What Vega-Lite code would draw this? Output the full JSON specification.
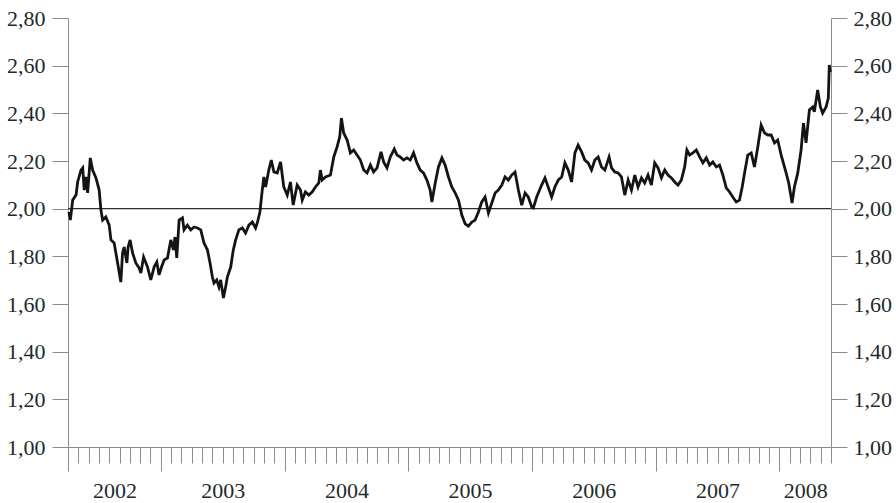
{
  "$schema": "https://vega.github.io/schema/vega-lite/v6.json",
  "width": 763,
  "height": 429,
  "autosize": {"type": "none"},
  "padding": {"left": 68, "top": 18, "right": 65, "bottom": 56},
  "background": "white",
  "config": {
    "view": {"stroke": null},
    "axis": {"grid": false, "domainColor": "#8c8c8c", "tickColor": "#8c8c8c", "domainWidth": 1, "tickWidth": 1, "labelFont": "Liberation Serif", "labelFontSize": 22, "labelColor": "#1d2b2b", "title": null}
  },
  "datasets": {
    "series": [
      {"t":2002.258,"v":1.986},{"t":2002.269,"v":1.952},{"t":2002.288,"v":2.036},{"t":2002.315,"v":2.057},{"t":2002.328,"v":2.112},{"t":2002.355,"v":2.162},{"t":2002.369,"v":2.171},{"t":2002.381,"v":2.078},{"t":2002.395,"v":2.133},{"t":2002.409,"v":2.066},{"t":2002.430,"v":2.213},{"t":2002.449,"v":2.162},{"t":2002.476,"v":2.129},{"t":2002.502,"v":2.078},{"t":2002.516,"v":1.994},{"t":2002.530,"v":1.952},{"t":2002.556,"v":1.965},{"t":2002.583,"v":1.931},{"t":2002.597,"v":1.869},{"t":2002.623,"v":1.856},{"t":2002.651,"v":1.772},{"t":2002.677,"v":1.692},{"t":2002.691,"v":1.814},{"t":2002.704,"v":1.839},{"t":2002.726,"v":1.772},{"t":2002.736,"v":1.839},{"t":2002.752,"v":1.869},{"t":2002.772,"v":1.814},{"t":2002.798,"v":1.772},{"t":2002.825,"v":1.751},{"t":2002.839,"v":1.730},{"t":2002.861,"v":1.797},{"t":2002.893,"v":1.755},{"t":2002.919,"v":1.701},{"t":2002.946,"v":1.755},{"t":2002.968,"v":1.776},{"t":2002.986,"v":1.722},{"t":2003.006,"v":1.755},{"t":2003.027,"v":1.785},{"t":2003.054,"v":1.793},{"t":2003.081,"v":1.869},{"t":2003.102,"v":1.827},{"t":2003.115,"v":1.881},{"t":2003.129,"v":1.793},{"t":2003.148,"v":1.952},{"t":2003.175,"v":1.961},{"t":2003.188,"v":1.911},{"t":2003.215,"v":1.931},{"t":2003.242,"v":1.911},{"t":2003.269,"v":1.923},{"t":2003.296,"v":1.919},{"t":2003.323,"v":1.911},{"t":2003.349,"v":1.856},{"t":2003.377,"v":1.827},{"t":2003.398,"v":1.772},{"t":2003.417,"v":1.713},{"t":2003.430,"v":1.688},{"t":2003.452,"v":1.701},{"t":2003.470,"v":1.671},{"t":2003.484,"v":1.701},{"t":2003.506,"v":1.625},{"t":2003.524,"v":1.671},{"t":2003.538,"v":1.713},{"t":2003.565,"v":1.755},{"t":2003.586,"v":1.827},{"t":2003.605,"v":1.869},{"t":2003.631,"v":1.911},{"t":2003.659,"v":1.919},{"t":2003.685,"v":1.898},{"t":2003.712,"v":1.931},{"t":2003.740,"v":1.944},{"t":2003.766,"v":1.919},{"t":2003.780,"v":1.940},{"t":2003.801,"v":1.986},{"t":2003.820,"v":2.078},{"t":2003.833,"v":2.133},{"t":2003.847,"v":2.091},{"t":2003.873,"v":2.162},{"t":2003.893,"v":2.204},{"t":2003.914,"v":2.154},{"t":2003.941,"v":2.150},{"t":2003.968,"v":2.196},{"t":2003.994,"v":2.091},{"t":2004.022,"v":2.057},{"t":2004.048,"v":2.112},{"t":2004.070,"v":2.015},{"t":2004.102,"v":2.099},{"t":2004.129,"v":2.078},{"t":2004.143,"v":2.036},{"t":2004.169,"v":2.070},{"t":2004.196,"v":2.057},{"t":2004.223,"v":2.070},{"t":2004.250,"v":2.091},{"t":2004.277,"v":2.108},{"t":2004.290,"v":2.162},{"t":2004.304,"v":2.120},{"t":2004.331,"v":2.133},{"t":2004.371,"v":2.141},{"t":2004.398,"v":2.217},{"t":2004.425,"v":2.259},{"t":2004.446,"v":2.301},{"t":2004.460,"v":2.380},{"t":2004.478,"v":2.318},{"t":2004.506,"v":2.288},{"t":2004.532,"v":2.234},{"t":2004.559,"v":2.246},{"t":2004.586,"v":2.225},{"t":2004.613,"v":2.204},{"t":2004.640,"v":2.162},{"t":2004.667,"v":2.150},{"t":2004.694,"v":2.183},{"t":2004.720,"v":2.154},{"t":2004.748,"v":2.171},{"t":2004.780,"v":2.238},{"t":2004.801,"v":2.196},{"t":2004.828,"v":2.171},{"t":2004.855,"v":2.217},{"t":2004.887,"v":2.250},{"t":2004.909,"v":2.225},{"t":2004.935,"v":2.217},{"t":2004.962,"v":2.204},{"t":2004.990,"v":2.213},{"t":2005.016,"v":2.204},{"t":2005.043,"v":2.234},{"t":2005.070,"v":2.192},{"t":2005.097,"v":2.162},{"t":2005.123,"v":2.150},{"t":2005.151,"v":2.120},{"t":2005.177,"v":2.078},{"t":2005.191,"v":2.028},{"t":2005.218,"v":2.108},{"t":2005.244,"v":2.175},{"t":2005.272,"v":2.213},{"t":2005.298,"v":2.183},{"t":2005.325,"v":2.133},{"t":2005.352,"v":2.091},{"t":2005.379,"v":2.066},{"t":2005.406,"v":2.036},{"t":2005.433,"v":1.973},{"t":2005.460,"v":1.936},{"t":2005.486,"v":1.927},{"t":2005.514,"v":1.944},{"t":2005.540,"v":1.952},{"t":2005.567,"v":1.986},{"t":2005.594,"v":2.028},{"t":2005.621,"v":2.049},{"t":2005.648,"v":1.982},{"t":2005.675,"v":2.024},{"t":2005.702,"v":2.066},{"t":2005.728,"v":2.078},{"t":2005.756,"v":2.099},{"t":2005.782,"v":2.133},{"t":2005.809,"v":2.120},{"t":2005.836,"v":2.141},{"t":2005.863,"v":2.154},{"t":2005.890,"v":2.078},{"t":2005.917,"v":2.015},{"t":2005.944,"v":2.066},{"t":2005.970,"v":2.049},{"t":2005.998,"v":2.007},{"t":2006.011,"v":2.003},{"t":2006.038,"v":2.049},{"t":2006.078,"v":2.099},{"t":2006.105,"v":2.129},{"t":2006.131,"v":2.091},{"t":2006.159,"v":2.049},{"t":2006.185,"v":2.091},{"t":2006.212,"v":2.120},{"t":2006.240,"v":2.133},{"t":2006.266,"v":2.192},{"t":2006.293,"v":2.162},{"t":2006.320,"v":2.112},{"t":2006.347,"v":2.234},{"t":2006.373,"v":2.267},{"t":2006.401,"v":2.238},{"t":2006.427,"v":2.204},{"t":2006.454,"v":2.192},{"t":2006.481,"v":2.162},{"t":2006.508,"v":2.204},{"t":2006.535,"v":2.217},{"t":2006.562,"v":2.175},{"t":2006.589,"v":2.162},{"t":2006.623,"v":2.217},{"t":2006.643,"v":2.171},{"t":2006.669,"v":2.154},{"t":2006.696,"v":2.150},{"t":2006.723,"v":2.133},{"t":2006.750,"v":2.057},{"t":2006.777,"v":2.120},{"t":2006.804,"v":2.078},{"t":2006.831,"v":2.141},{"t":2006.857,"v":2.091},{"t":2006.885,"v":2.129},{"t":2006.911,"v":2.108},{"t":2006.938,"v":2.141},{"t":2006.965,"v":2.099},{"t":2006.992,"v":2.192},{"t":2007.019,"v":2.171},{"t":2007.046,"v":2.129},{"t":2007.073,"v":2.162},{"t":2007.099,"v":2.141},{"t":2007.127,"v":2.129},{"t":2007.153,"v":2.112},{"t":2007.180,"v":2.099},{"t":2007.207,"v":2.120},{"t":2007.234,"v":2.175},{"t":2007.252,"v":2.246},{"t":2007.274,"v":2.225},{"t":2007.301,"v":2.234},{"t":2007.328,"v":2.246},{"t":2007.355,"v":2.217},{"t":2007.381,"v":2.192},{"t":2007.409,"v":2.213},{"t":2007.436,"v":2.183},{"t":2007.462,"v":2.196},{"t":2007.490,"v":2.175},{"t":2007.516,"v":2.183},{"t":2007.543,"v":2.141},{"t":2007.570,"v":2.087},{"t":2007.597,"v":2.070},{"t":2007.623,"v":2.049},{"t":2007.651,"v":2.028},{"t":2007.677,"v":2.036},{"t":2007.699,"v":2.091},{"t":2007.718,"v":2.150},{"t":2007.744,"v":2.225},{"t":2007.772,"v":2.234},{"t":2007.798,"v":2.175},{"t":2007.825,"v":2.259},{"t":2007.852,"v":2.351},{"t":2007.879,"v":2.318},{"t":2007.906,"v":2.309},{"t":2007.933,"v":2.309},{"t":2007.960,"v":2.276},{"t":2007.986,"v":2.288},{"t":2008.014,"v":2.225},{"t":2008.054,"v":2.150},{"t":2008.075,"v":2.108},{"t":2008.102,"v":2.024},{"t":2008.121,"v":2.091},{"t":2008.148,"v":2.150},{"t":2008.175,"v":2.246},{"t":2008.194,"v":2.359},{"t":2008.215,"v":2.276},{"t":2008.242,"v":2.414},{"t":2008.269,"v":2.427},{"t":2008.282,"v":2.406},{"t":2008.309,"v":2.498},{"t":2008.331,"v":2.427},{"t":2008.349,"v":2.401},{"t":2008.377,"v":2.427},{"t":2008.395,"v":2.464},{"t":2008.403,"v":2.603},{"t":2008.411,"v":2.573}
    ]
  },
  "resolve": {"axis": {"x": "independent", "y": "independent"}},
  "layer": [
    {
      "data": {"values": [{"ref": 2}]},
      "mark": {"type": "rule", "color": "#2e2e2e", "strokeWidth": 1.4},
      "encoding": {
        "y": {
          "field": "ref", "type": "quantitative",
          "scale": {"domain": [1, 2.8], "nice": false, "zero": false},
          "axis": {"orient": "right", "values": [1, 1.2, 1.4, 1.6, 1.8, 2, 2.2, 2.4, 2.6, 2.8], "labelExpr": "replace(format(datum.value, '.2f'), '.', ',')", "tickSize": 16, "labelPadding": 6, "labelOverlap": false}
        }
      }
    },
    {
      "data": {"name": "series"},
      "mark": {"type": "line", "color": "#141414", "strokeWidth": 2.8},
      "encoding": {
        "x": {
          "field": "t", "type": "quantitative",
          "scale": {"domain": [2002.25, 2008.4167], "nice": false, "zero": false},
          "axis": {
            "orient": "bottom",
            "values": [2002.25, 2002.3333, 2002.4167, 2002.5, 2002.5833, 2002.6667, 2002.75, 2002.8333, 2002.9167,
              2003, 2003.0833, 2003.1667, 2003.25, 2003.3333, 2003.4167, 2003.5, 2003.5833, 2003.6667, 2003.75, 2003.8333, 2003.9167,
              2004, 2004.0833, 2004.1667, 2004.25, 2004.3333, 2004.4167, 2004.5, 2004.5833, 2004.6667, 2004.75, 2004.8333, 2004.9167,
              2005, 2005.0833, 2005.1667, 2005.25, 2005.3333, 2005.4167, 2005.5, 2005.5833, 2005.6667, 2005.75, 2005.8333, 2005.9167,
              2006, 2006.0833, 2006.1667, 2006.25, 2006.3333, 2006.4167, 2006.5, 2006.5833, 2006.6667, 2006.75, 2006.8333, 2006.9167,
              2007, 2007.0833, 2007.1667, 2007.25, 2007.3333, 2007.4167, 2007.5, 2007.5833, 2007.6667, 2007.75, 2007.8333, 2007.9167,
              2008, 2008.0833, 2008.1667, 2008.25, 2008.3333, 2008.4167],
            "labels": false,
            "tickSize": {"condition": {"test": "datum.value == 2002.25 || datum.value % 1 == 0", "value": 24}, "value": 16},
            "offset": 0
          }
        },
        "y": {
          "field": "v", "type": "quantitative",
          "scale": {"domain": [1, 2.8], "nice": false, "zero": false},
          "axis": {"orient": "left", "values": [1, 1.2, 1.4, 1.6, 1.8, 2, 2.2, 2.4, 2.6, 2.8], "labelExpr": "replace(format(datum.value, '.2f'), '.', ',')", "tickSize": 16, "labelPadding": 7, "labelOverlap": false}
        }
      }
    },
    {
      "data": {"name": "series"},
      "mark": {"type": "line", "opacity": 0},
      "encoding": {
        "x": {
          "field": "t", "type": "quantitative",
          "scale": {"domain": [2002.25, 2008.4167], "nice": false, "zero": false},
          "axis": {"orient": "bottom", "values": [2002.625, 2003.5, 2004.5, 2005.5, 2006.5, 2007.5, 2008.2083], "labelExpr": "'' + floor(datum.value)", "ticks": false, "domain": false, "labelPadding": 33, "labelFlush": false, "labelOverlap": false, "labelBound": false, "offset": 0}
        },
        "y": {
          "field": "v", "type": "quantitative",
          "scale": {"domain": [1, 2.8], "nice": false, "zero": false},
          "axis": null
        }
      }
    }
  ]
}
